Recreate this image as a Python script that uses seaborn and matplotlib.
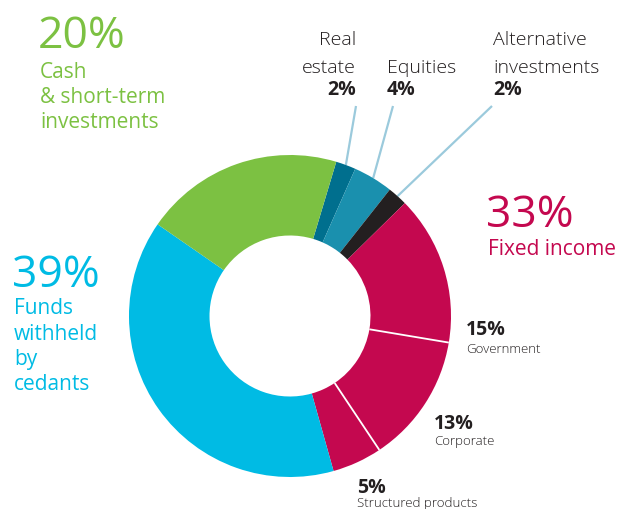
import numpy as np
import matplotlib
matplotlib.use('Agg')
import matplotlib.pyplot as plt
import seaborn as sns

# portfolio split, clockwise from the top
labels = ['Real estate', 'Equities', 'Alternative investments', 'Government',
          'Corporate', 'Structured products', 'Funds withheld by cedants',
          'Cash & short-term investments']
shares = [2, 4, 2, 15, 13, 5, 39, 20]
colors = ['#006f8e', '#1a90ae', '#231f20', '#c4084f', '#c4084f', '#c4084f',
          '#00bbe4', '#7cc142']

# group totals shown as big coloured numbers
group_pct = {'cash': 20, 'funds': 39, 'fixed': 33}

sns.set_theme(style='white')
plt.rcParams['font.family'] = ['Open Sans', 'DejaVu Sans']

fig = plt.figure(figsize=(6.19, 5.10), dpi=100)
ax = fig.add_axes([0, 0, 1, 1])
ax.set_xlim(0, 619)
ax.set_ylim(510, 0)  # pixel-like coordinates, y down
ax.set_aspect('equal')
ax.axis('off')

cx, cy, R = 290, 317, 161
wedges, _ = ax.pie(shares, colors=colors, center=(cx, cy), radius=R,
                   startangle=-73.3, counterclock=True,
                   wedgeprops=dict(width=R * 0.5, linewidth=0))
ax.set_xlim(0, 619)
ax.set_ylim(510, 0)

# white separators between the fixed income sub-slices
for w in wedges[3:5]:
    t = np.deg2rad(w.theta2)
    r_in = w.r - w.width
    ax.plot([cx + r_in * np.cos(t), cx + w.r * np.cos(t)],
            [cy + r_in * np.sin(t), cy + w.r * np.sin(t)],
            color='white', lw=1.3, solid_capstyle='butt')

# leader lines for the small slices
line_tops = [(356, 107), (393, 107), (492, 107)]
for w, (x0, y0) in zip(wedges[:3], line_tops):
    t = np.deg2rad((w.theta1 + w.theta2) / 2)
    ax.plot([x0, cx + w.r * np.cos(t)], [y0, cy + w.r * np.sin(t)],
            color='#9bcadc', lw=1.6, solid_capstyle='butt', zorder=0)

dark = '#231f20'
green, cyan, red = '#7cc142', '#00bbe4', '#c4084f'

# cash
ax.text(38, 48, f"{group_pct['cash']}%", color=green, fontsize=32)
for y, s in zip([78, 103, 128], ['Cash', '& short-term', 'investments']):
    ax.text(40, y, s, color=green, fontsize=15)

# funds withheld
ax.text(12, 287, f"{group_pct['funds']}%", color=cyan, fontsize=32)
for y, s in zip([314, 340, 365, 390], ['Funds', 'withheld', 'by', 'cedants']):
    ax.text(14, y, s, color=cyan, fontsize=15)

# fixed income
ax.text(486, 227, f"{group_pct['fixed']}%", color=red, fontsize=32)
ax.text(488, 255, 'Fixed income', color=red, fontsize=15)

# small slices at the top
ax.text(356, 45, 'Real', color=dark, fontsize=14, ha='right', fontweight='light')
ax.text(356, 73, 'estate', color=dark, fontsize=14, ha='right', fontweight='light')
ax.text(356, 95, f'{shares[0]}%', color=dark, fontsize=14, ha='right', fontweight='bold')
ax.text(387, 73, 'Equities', color=dark, fontsize=14, fontweight='light')
ax.text(387, 95, f'{shares[1]}%', color=dark, fontsize=14, fontweight='bold')
ax.text(493, 45, 'Alternative', color=dark, fontsize=14, fontweight='light')
ax.text(493, 73, 'investments', color=dark, fontsize=14, fontweight='light')
ax.text(493, 95, f'{shares[2]}%', color=dark, fontsize=14, fontweight='bold')

# fixed income breakdown
sub = [(466, 335, 353, shares[3], 'Government'),
       (434, 429, 445, shares[4], 'Corporate'),
       (357, 493, 507, shares[5], 'Structured products')]
for x, yb, ys, v, name in sub:
    ax.text(x, yb, f'{v}%', color=dark, fontsize=14, fontweight='bold')
    ax.text(x, ys, name, color=dark, fontsize=9.5, fontweight='light')

fig.savefig('out.png', dpi=100)
